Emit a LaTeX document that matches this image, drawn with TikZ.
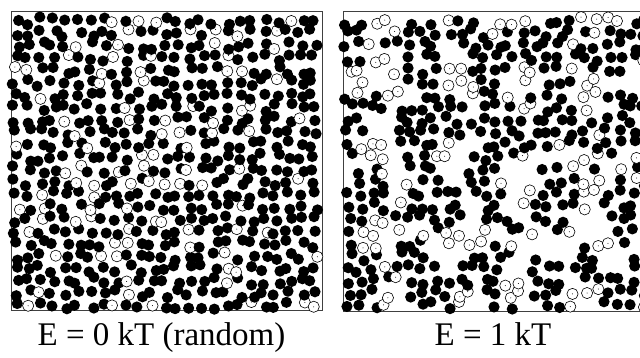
\documentclass[tikz,border=0pt]{standalone}
\usepackage{fontspec}
\setmainfont{Liberation Serif}
\tikzset{
  hollow/.style={draw=black, line width=0.6pt, fill=white},
  boxline/.style={draw=black!75, line width=0.9pt},
  caption/.style={font=\fontsize{33}{36}\selectfont, anchor=base, inner sep=0pt},
}
\begin{document}
\begin{tikzpicture}[x=1pt,y=1pt]
            \useasboundingbox (0,0) rectangle (640,358);
            \def\radius{5.6}
            \def\gap{12.4}
            \pgfmathsetseed{4242}

            % random mixture
            \draw[boxline] (11,48) rectangle (322,347);
            \foreach \i in {0,...,24} {
                \foreach \j in {0,...,23} {
                    \pgfmathsetmacro{\px}{16+\i*\gap+4*rand}
                    \pgfmathsetmacro{\py}{52+\j*\gap+4*rand}
                    \pgfmathtruncatemacro{\kind}{rnd<0.17 ? 1 : 0}
                    \coordinate (P) at (\px,\py);
                    \ifnum\kind=1
                        \filldraw[hollow] (P) circle (\radius);
                        \fill (P) circle (0.5);
                    \else
                        \fill (P) circle (\radius);
                    \fi
                }
            }

            % clustered mixture
            \draw[boxline] (700,347) -- (343,347) -- (343,47) -- (700,47);
            \foreach \i in {0,...,24} {
                \foreach \j in {0,...,23} {
                    \pgfmathsetmacro{\px}{348+\i*\gap+4.5*rand}
                    \pgfmathsetmacro{\py}{52+\j*\gap+4.5*rand}
                    \pgfmathsetmacro{\field}{sin(5.3*\px+20)+sin(4.7*\py+70)
                        +sin(3.9*(\px-\py)+10)+sin(6.1*\px+3.3*\py+130)+0.9*rand}
                    \pgfmathtruncatemacro{\kind}{\field>-0.35 ? 0 : (rnd<0.4 ? 1 : (rnd<0.12 ? 0 : 2))}
                    \coordinate (P) at (\px,\py);
                    \ifcase\kind
                        \fill (P) circle (\radius);
                    \or
                        \filldraw[hollow] (P) circle (\radius);
                        \fill (P) circle (0.5);
                    \fi
                }
            }

            %labels
            \node[caption] (lblrandom) at (161.5,12) {E = 0 kT (random)};
            \node[caption] (lblcluster) at (493,12) {E = 1 kT};
\end{tikzpicture}
\end{document}
